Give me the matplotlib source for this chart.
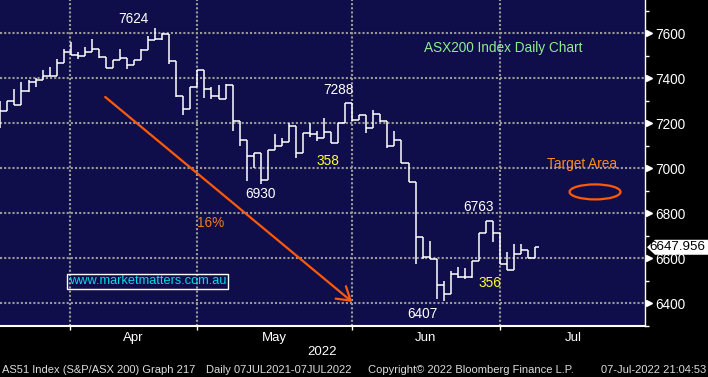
import matplotlib
matplotlib.use('Agg')
import matplotlib.pyplot as plt
import matplotlib.transforms as mtransforms
from matplotlib.patches import Ellipse, Polygon
from matplotlib.ticker import MultipleLocator

plt.rcParams['font.family'] = 'Liberation Sans'

# ASX200 daily bars, mid Mar 2022 -> 07 Jul 2022 (one entry per trading day)
OPENS = [7214, 7254, 7298, 7280, 7343, 7383, 7391, 7409, 7409, 7467,
         7516, 7503, 7498, 7516, 7528, 7495, 7443, 7480, 7488, 7458,
         7480, 7525, 7569, 7572, 7596, 7476, 7319, 7261, 7359, 7436,
         7350, 7320, 7306, 7369, 7209, 7125, 7054, 7066, 6947, 7080,
         7098, 7116, 7187, 7068, 7155, 7150, 7132, 7162, 7113, 7199,
         7288, 7214, 7236, 7177, 7240, 7211, 7098, 7125, 7021, 6937,
         6694, 6606, 6595, 6480, 6439, 6529, 6515, 6515, 6587, 6713,
         6763, 6710, 6574, 6547, 6618, 6636, 6599]
HIGHS = [7298, 7298, 7351, 7383, 7391, 7402, 7436, 7449, 7485, 7529,
         7560, 7516, 7538, 7572, 7528, 7495, 7480, 7528, 7488, 7480,
         7531, 7587, 7624, 7602, 7596, 7476, 7320, 7359, 7436, 7436,
         7362, 7369, 7372, 7369, 7209, 7125, 7066, 7066, 7080, 7150,
         7132, 7202, 7187, 7157, 7199, 7166, 7221, 7162, 7199, 7288,
         7288, 7236, 7236, 7258, 7240, 7211, 7165, 7125, 7021, 6937,
         6694, 6676, 6595, 6498, 6543, 6562, 6555, 6587, 6713, 6763,
         6763, 6710, 6628, 6663, 6663, 6636, 6651]
LOWS = [7178, 7254, 7280, 7280, 7338, 7362, 7391, 7409, 7409, 7467,
        7503, 7485, 7498, 7515, 7488, 7443, 7443, 7480, 7439, 7458,
        7480, 7525, 7569, 7569, 7461, 7317, 7236, 7261, 7359, 7310,
        7306, 7306, 7306, 7166, 7099, 6944, 6999, 6930, 6947, 7080,
        7098, 7116, 7044, 7068, 7139, 7122, 7132, 7113, 7113, 7199,
        7211, 7214, 7157, 7177, 7203, 7088, 7098, 7021, 6937, 6574,
        6597, 6595, 6418, 6407, 6439, 6510, 6507, 6510, 6587, 6713,
        6673, 6574, 6547, 6547, 6618, 6599, 6599]
CLOSES = [7254, 7298, 7280, 7343, 7383, 7391, 7409, 7409, 7467, 7516,
          7503, 7498, 7516, 7528, 7495, 7443, 7480, 7488, 7458, 7480,
          7525, 7569, 7572, 7596, 7476, 7319, 7261, 7359, 7436, 7350,
          7320, 7306, 7369, 7209, 7125, 7054, 7066, 6947, 7080, 7098,
          7116, 7187, 7068, 7155, 7150, 7132, 7162, 7113, 7199, 7288,
          7214, 7236, 7177, 7240, 7211, 7098, 7125, 7021, 6937, 6694,
          6606, 6595, 6480, 6439, 6529, 6515, 6515, 6587, 6713, 6763,
          6710, 6574, 6547, 6618, 6636, 6599, 6647.956]

MONTH_STARTS = [9.95, 27.95, 49.95, 70.95]   # bar index of first trading day
MONTH_LABELS = ['Apr', 'May', 'Jun', 'Jul']
MONTH_LABEL_POS = [18.9, 38.9, 60.4, 81.4]
PRICE_TICKS = [6400, 6600, 6800, 7000, 7200, 7400, 7600]

BG = '#100e4a'
ORANGE = '#ff5a0a'
W, H = 708, 377

fig = plt.figure(figsize=(W / 100, H / 100), dpi=100, facecolor='black')
ax = fig.add_axes([0, 51 / H, 645 / W, 326 / H])
ax.set_facecolor(BG)

# bars: high-low line, open tick left, close tick right
x = list(range(len(CLOSES)))
ax.vlines(x, LOWS, HIGHS, color='white', lw=1.1, zorder=3)
ax.hlines(OPENS, [i - 0.5 for i in x], x, color='white', lw=1.1, zorder=3)
ax.hlines(CLOSES, x, [i + 0.5 for i in x], color='white', lw=1.1, zorder=3)

ax.set_xlim(-0.05, 91.6)
ax.set_ylim(6298, 7747)

# axes / ticks
ax.set_xticks(MONTH_STARTS)
ax.set_xticklabels([])
ax.set_xticks(MONTH_LABEL_POS, minor=True)
ax.set_xticklabels(MONTH_LABELS, minor=True)
ax.tick_params(axis='x', which='major', length=3, width=1, color='white', direction='out')
ax.tick_params(axis='x', which='minor', length=0, pad=4, labelsize=9.5, labelcolor='white')

ax.yaxis.tick_right()
ax.set_yticks(PRICE_TICKS)
ax.yaxis.set_minor_locator(MultipleLocator(100))
ax.tick_params(axis='y', which='major', length=0, pad=7.5, labelsize=9.8, labelcolor='white')
ax.tick_params(axis='y', which='minor', length=3, width=1, color='white', direction='out')

ax.grid(True, which='major', color='#9a9a9a', linestyle=(0, (1, 1)), linewidth=1.5, zorder=1)
ax.set_axisbelow(True)

for s in ['top', 'left']:
    ax.spines[s].set_visible(False)
ax.spines['right'].set_color('white')
ax.spines['right'].set_linewidth(1)
ax.spines['bottom'].set_color('white')
ax.spines['bottom'].set_linewidth(1.5)

# little triangles at the price ticks
trans = mtransforms.blended_transform_factory(ax.transAxes, ax.transData)
ax.plot([1.006] * len(PRICE_TICKS), PRICE_TICKS, marker='>', ms=5, color='white',
        ls='none', transform=trans, clip_on=False)

# annotations
ax.text(18.9, 7663, '7624', color='white', ha='center', va='center', fontsize=9.8)
ax.text(48.0, 7347, '7288', color='white', ha='center', va='center', fontsize=9.8)
ax.text(36.9, 6885, '6930', color='white', ha='center', va='center', fontsize=9.8)
ax.text(59.9, 6352, '6407', color='white', ha='center', va='center', fontsize=9.8)
ax.text(68.0, 6827, '6763', color='white', ha='center', va='center', fontsize=9.8)
ax.text(46.5, 7031, '358', color='#ffff33', ha='center', va='center', fontsize=9.8)
ax.text(69.6, 6487, '356', color='#ffff33', ha='center', va='center', fontsize=9.8)
ax.text(29.9, 6754, '16%', color='#f07c1e', ha='center', va='center', fontsize=9.8)
ax.text(71.4, 7534, 'ASX200 Index Daily Chart', color='#8eec8e', ha='center', va='center', fontsize=9.8)
ax.text(82.7, 7020, 'Target Area', color='#ff8c1a', ha='center', va='center', fontsize=9.8)
ax.text(20.9, 6496, 'www.marketmatters.com.au', color='#00dcec', ha='center', va='center',
        fontsize=9.2, bbox=dict(boxstyle='square,pad=0.12', fc='none', ec='white', lw=1))

ax.annotate('', xy=(50.0, 6405), xytext=(14.9, 7316),
            arrowprops=dict(arrowstyle='->,head_length=0.92,head_width=0.58', color=ORANGE,
                            lw=1.6, shrinkA=0, shrinkB=0, mutation_scale=10))
ax.add_patch(Ellipse((84.5, 6894), width=7.24, height=66.7, fill=False, edgecolor=ORANGE, lw=1.6))

# last price tag (sits over the 6600 label, as on the terminal)
yc = ax.transData.transform((0, CLOSES[-1]))[1]
tag = Polygon([(647, yc), (655, yc + 7.5), (708, yc + 7.5), (708, yc - 7.5), (655, yc - 7.5)],
              closed=True, fc='white', ec='none', transform=mtransforms.IdentityTransform(), zorder=5)
fig.add_artist(tag)
fig.text(705 / W, yc / H, '%.3f' % CLOSES[-1], color='black', ha='right', va='center',
         fontsize=9.6, zorder=6)

# footer
fig.text(322 / W, 1 - 352 / H, '2022', color='white', ha='center', va='center', fontsize=9.5)
fc = '#dcdcdc'
fig.text(2 / W, 1 - 370 / H, 'AS51 Index (S&P/ASX 200) Graph 217', color=fc, ha='left', va='center', fontsize=8)
fig.text(206 / W, 1 - 370 / H, 'Daily 07JUL2021-07JUL2022', color=fc, ha='left', va='center', fontsize=8)
fig.text(368 / W, 1 - 370 / H, 'Copyright\u00a9 2022 Bloomberg Finance L.P.', color=fc, ha='left', va='center', fontsize=8)
fig.text(706 / W, 1 - 370 / H, '07-Jul-2022 21:04:53', color=fc, ha='right', va='center', fontsize=8)

fig.savefig('out.png', dpi=100, facecolor='black')
